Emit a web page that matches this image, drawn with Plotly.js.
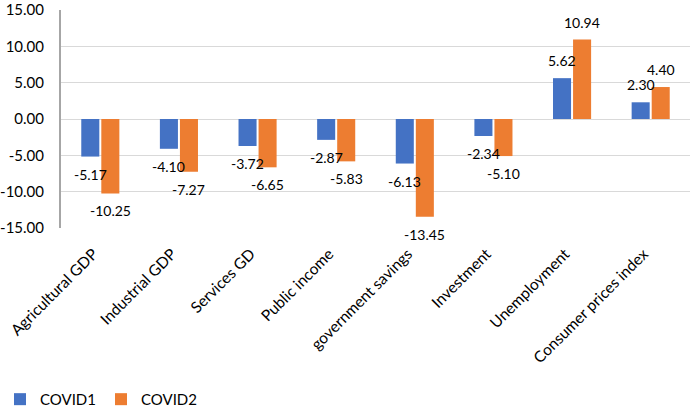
<!DOCTYPE html>
<html>
<head>
<meta charset="utf-8">
<script src="https://cdn.plot.ly/plotly-3.0.1.min.js"></script>
<style>
  html, body { margin: 0; padding: 0; background: #fff; }
  #chart { width: 690px; height: 416px; }
</style>
</head>
<body>
<div id="chart"></div>
<script>
var categories = ['Agricultural GDP', 'Industrial GDP', 'Services GD', 'Public income',
  'government savings', 'Investment', 'Unemployment', 'Consumer prices index'];
var covid1 = [-5.17, -4.10, -3.72, -2.87, -6.13, -2.34, 5.62, 2.30];
var covid2 = [-10.25, -7.27, -6.65, -5.83, -13.45, -5.10, 10.94, 4.40];
var yTicks = [-15, -10, -5, 0, 5, 10, 15];

function fmt(v) { return v.toFixed(2); }

var fontFam = 'Lato, "Open Sans", sans-serif';

var data = [
  {type: 'bar', name: 'COVID1', x: categories, y: covid1,
    marker: {color: '#4472C4'}, hoverinfo: 'skip'},
  {type: 'bar', name: 'COVID2', x: categories, y: covid2,
    marker: {color: '#ED7D31'}, hoverinfo: 'skip'}
];

// value labels, a little away from the bar ends like Excel does
var annotations = [];
function addLabels(vals, dx) {
  vals.forEach(function (v, i) {
    annotations.push({
      x: categories[i], y: v, xref: 'x', yref: 'y',
      text: fmt(v), showarrow: false,
      xshift: dx, yshift: v < 0 ? -7 : 7,
      yanchor: v < 0 ? 'top' : 'bottom',
      font: {family: fontFam, size: 14, color: '#000'}
    });
  });
}
addLabels(covid1, -10);
addLabels(covid2, 10);

var layout = {
  width: 690, height: 416,
  margin: {l: 61, r: 0, t: 10, b: 188},
  paper_bgcolor: '#fff', plot_bgcolor: '#fff',
  font: {family: fontFam, size: 15, color: '#000'},
  barmode: 'group', bargap: 0.49, bargroupgap: 0.1,
  showlegend: true,
  legend: {orientation: 'h', x: -0.097, xanchor: 'left', y: -0.862, yanchor: 'bottom',
    font: {size: 15}, traceorder: 'normal'},
  annotations: annotations,
  xaxis: {
    tickangle: -45, showgrid: false, zeroline: false, showline: false,
    ticks: '', tickfont: {size: 15.5}, ticklabelstandoff: 13, ticklabelshift: -7
  },
  yaxis: {
    range: [-15, 15], tickvals: yTicks, ticktext: yTicks.map(fmt),
    showgrid: true, gridcolor: '#d9d9d9', gridwidth: 1,
    zeroline: true, zerolinecolor: '#d9d9d9', zerolinewidth: 1,
    showline: true, linecolor: '#a6a6a6', linewidth: 2,
    ticks: '', ticklabelstandoff: 12, tickfont: {size: 15}
  }
};

Plotly.newPlot('chart', data, layout, {staticPlot: true});
</script>
</body>
</html>
